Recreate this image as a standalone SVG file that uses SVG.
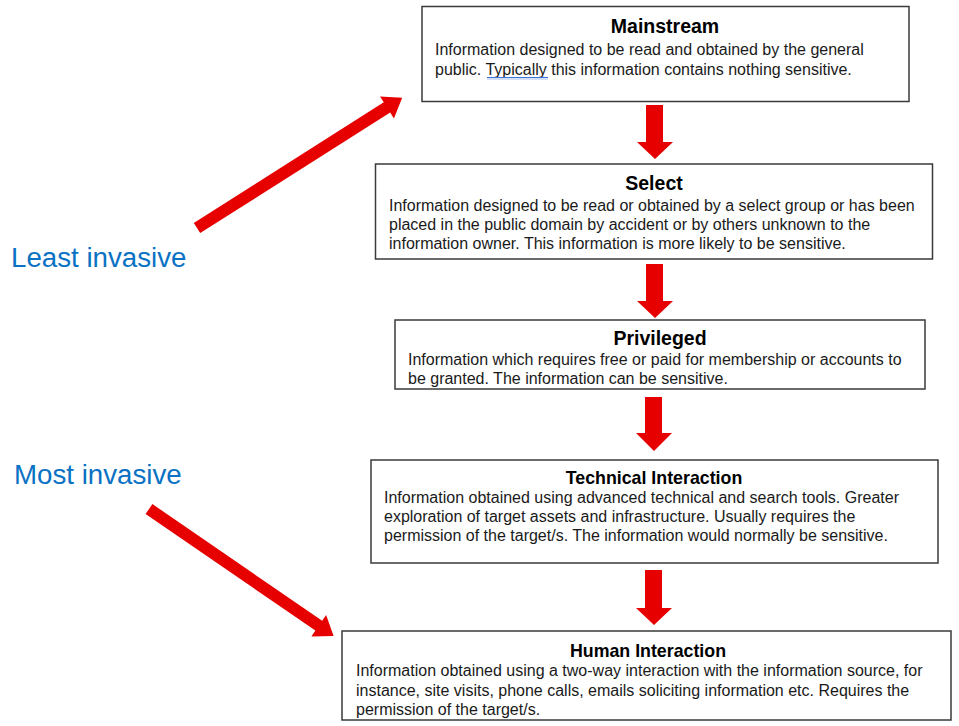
<svg xmlns="http://www.w3.org/2000/svg" width="959" height="726" viewBox="0 0 959 726">
<style>
.box{fill:#fff;stroke:#3a3a3a;stroke-width:1.5}
.t{font-family:"Liberation Sans",Arial,sans-serif;font-weight:bold;fill:#000;text-anchor:middle}
.b{font-family:"Liberation Sans",Arial,sans-serif;font-size:16px;fill:#1a1a1a}
.lbl{font-family:"Liberation Sans",Arial,sans-serif;font-size:27.7px;fill:#0a72c4}
.arr{fill:#e60000}
</style>
<rect width="959" height="726" fill="#fff"/>
<g id="label-least"><text class="lbl" x="11" y="267">Least invasive</text></g>
<g id="label-most"><text class="lbl" x="14" y="484">Most invasive</text></g>

<g id="mainstream">
<rect class="box" x="422" y="6.5" width="487" height="95"/>
<text class="t" x="665" y="33" font-size="19.5">Mainstream</text>
<text class="b" x="435" y="55">Information designed to be read and obtained by the general</text>
<text class="b" x="435" y="75">public. Typically this information contains nothing sensitive.</text>
<line x1="487" y1="77.5" x2="548" y2="77.5" stroke="#3f74dc" stroke-width="1"/>
<line x1="487" y1="79" x2="548" y2="79" stroke="#a9c1f0" stroke-width="1"/>
</g>
<g id="select">
<rect class="box" x="375.5" y="164" width="557" height="95"/>
<text class="t" x="654" y="190" font-size="19.5">Select</text>
<text class="b" x="389" y="211">Information designed to be read or obtained by a select group or has been</text>
<text class="b" x="389" y="230">placed in the public domain by accident or by others unknown to the</text>
<text class="b" x="389" y="249">information owner. This information is more likely to be sensitive.</text>
</g>
<g id="privileged">
<rect class="box" x="395" y="320" width="530" height="69"/>
<text class="t" x="660" y="345" font-size="19.5">Privileged</text>
<text class="b" x="408" y="365">Information which requires free or paid for membership or accounts to</text>
<text class="b" x="408" y="384">be granted. The information can be sensitive.</text>
</g>
<g id="technical">
<rect class="box" x="371" y="460" width="567" height="103"/>
<text class="t" x="654" y="484" font-size="17.8">Technical Interaction</text>
<text class="b" x="384" y="503">Information obtained using advanced technical and search tools. Greater</text>
<text class="b" x="384" y="522">exploration of target assets and infrastructure. Usually requires the</text>
<text class="b" x="384" y="541">permission of the target/s. The information would normally be sensitive.</text>
</g>
<g id="human">
<rect class="box" x="342" y="631" width="609" height="89"/>
<text class="t" x="648" y="657" font-size="17.8">Human Interaction</text>
<text class="b" x="356" y="676" font-size="15.7">Information obtained using a two-way interaction with the information source, for</text>
<text class="b" x="356" y="696" font-size="15.7">instance, site visits, phone calls, emails soliciting information etc. Requires the</text>
<text class="b" x="356" y="715" font-size="15.7">permission of the target/s.</text>
</g>

<g id="connectors">
<polygon class="arr" points="646,105 663,105 663,142 673,142 655,159 637,142 646,142"/>
<polygon class="arr" points="646,264 663,264 663,301 673,301 655,318 637,301 646,301"/>
<polygon class="arr" points="645,397 662,397 662,433 672,433 654,451 636,433 645,433"/>
<polygon class="arr" points="645,570 662,570 662,608 672,608 654,625 636,608 645,608"/>
<polygon class="arr" transform="translate(197,228) rotate(-32.4)" points="0,-6 225,-6 225,-13 243,0 225,13 225,6 0,6"/>
<polygon class="arr" transform="translate(149,509) rotate(34.5)" points="0,-6 206,-6 206,-13 224,0 206,13 206,6 0,6"/>
</g>
</svg>
